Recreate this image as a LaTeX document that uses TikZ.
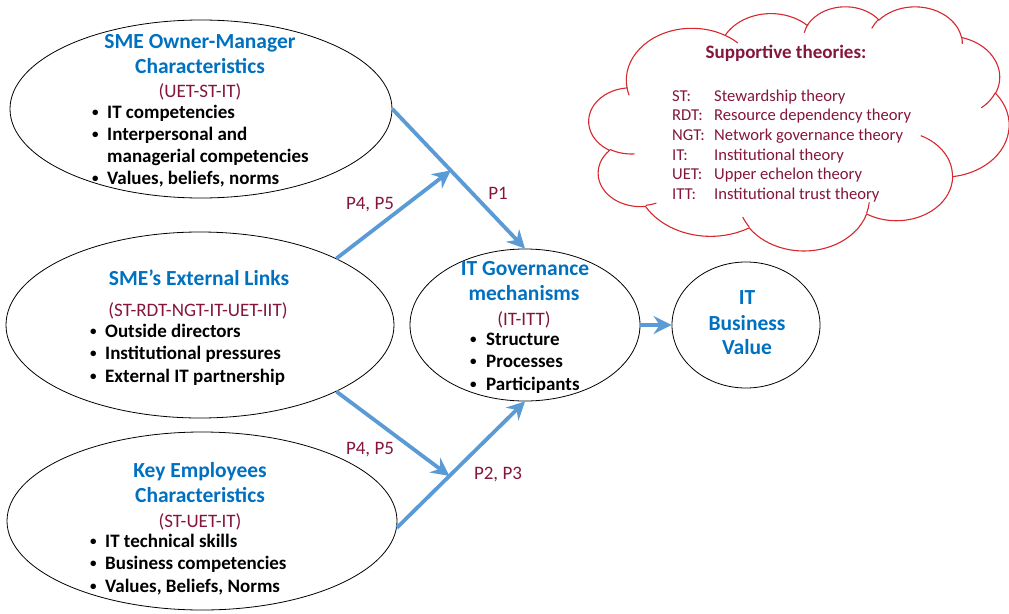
\documentclass[tikz,border=0pt]{standalone}
\usepackage{fontspec}
\setmainfont{Carlito}
\usetikzlibrary{shapes.geometric,arrows.meta,calc}
\definecolor{tblue}{RGB}{0,112,192}
\definecolor{maroon}{RGB}{132,22,62}
\definecolor{arrblue}{RGB}{91,155,213}
\definecolor{cloudred}{RGB}{214,40,46}
\newcommand\smbul{\raisebox{1.2pt}{\fontsize{13}{13}\selectfont•}}
\tikzset{
  oval/.style={ellipse, draw=black, line width=0.8pt, inner sep=0pt},
  ttl/.style={font=\fontsize{21.5}{24}\selectfont\bfseries, text=tblue, inner sep=0pt, anchor=base},
  thy/.style={font=\fontsize{19}{22}\selectfont, text=maroon, inner sep=0pt, anchor=base},
  itm/.style={font=\fontsize{19}{22}\selectfont\bfseries, text=black, inner sep=0pt, anchor=base west},
  lbl/.style={font=\fontsize{19}{22}\selectfont, text=maroon, inner sep=0pt},
  arr/.style={draw=arrblue, line width=3.8pt, -{Stealth[length=18pt, width=18pt, inset=6pt]}},
  cltxt/.style={font=\fontsize{16.6}{20}\selectfont, text=maroon, inner sep=0pt, anchor=base west},
  cltitle/.style={font=\fontsize{19}{22}\selectfont\bfseries, text=maroon, inner sep=0pt, anchor=base},
  cloudline/.style={draw=cloudred, line width=1.1pt},
  ca/.style n args={4}{x radius=#1, y radius=#2,
    start angle={atan2((#1)*sin(#3),(#2)*cos(#3))},
    delta angle={mod(atan2((#1)*sin((#3)+(#4)),(#2)*cos((#3)+(#4)))-atan2((#1)*sin(#3),(#2)*cos(#3))+720,360)}}
}
\begin{document}
\begin{tikzpicture}[x=1pt,y=-1pt]
\useasboundingbox (0,0) rectangle (1009,613);

% cloud
\begin{scope}[shift={(589,6)}, x={(0.9722pt,0pt)}, y={(0pt,-0.5650pt)}]
\draw[cloudline, fill=white] (39.00,143.70)
 arc[ca={67.53}{91.90}{-190.4875}{123.7805}]
 arc[ca={53.33}{72.67}{-144.1024}{89.9452}]
 arc[ca={43.65}{59.45}{-145.8079}{99.7230}]
 arc[ca={48.57}{65.95}{-130.9861}{117.2417}]
 arc[ca={53.33}{72.73}{-78.7089}{109.0269}]
 arc[ca={67.75}{92.20}{-46.2673}{130.2690}]
 arc[ca={57.85}{78.67}{0.6250}{114.0333}]
 arc[ca={67.52}{92.15}{22.4516}{115.1726}]
 arc[ca={77.20}{105.43}{66.2426}{75.7110}]
 arc[ca={43.60}{59.18}{-274.9421}{146.7356}]
 arc[ca={43.45}{59.45}{-246.8285}{152.5189}]
 -- cycle;
\draw[cloudline]
 (46.93,261.77) arc[ca={43.45}{59.45}{86.7420}{26.4295}]
 (69.28,348.99) arc[ca={43.60}{59.18}{73.6105}{11.4475}]
 (164.78,390.90) arc[ca={67.52}{92.15}{137.6242}{14.0811}]
 (288.27,347.51) arc[ca={67.52}{92.15}{6.4533}{15.9984}]
 (341.29,229.54) arc[ca={57.85}{78.67}{-70.2924}{70.9174}]
 (417.98,153.54) arc[ca={53.33}{72.73}{30.3180}{27.7515}]
 (383.24,54.26) arc[ca={48.57}{65.95}{-13.7443}{14.8589}]
 (290.78,39.52) arc[ca={48.57}{65.95}{-149.1815}{18.1954}]
 (221.41,47.20) arc[ca={43.65}{59.45}{-163.4943}{17.6864}]
 (140.00,51.92) arc[ca={67.53}{91.90}{-66.7070}{12.3194}]
 (41.27,157.89) arc[ca={67.53}{91.90}{157.6544}{11.8582}];
\end{scope}

\node[cltitle] (st) at (786,58) {Supportive theories:};
\node[cltxt] (a1) at (672,101) {ST:};
\node[cltxt] (d1) at (714,101) {Stewardship theory};
\node[cltxt] (a2) at (672,120.5) {RDT:};
\node[cltxt] (d2) at (714,120.5) {Resource dependency theory};
\node[cltxt] (a3) at (672,140) {NGT:};
\node[cltxt] (d3) at (714,140) {Network governance theory};
\node[cltxt] (a4) at (672,160) {IT:};
\node[cltxt] (d4) at (714,160) {Institutional theory};
\node[cltxt] (a5) at (672,179.5) {UET:};
\node[cltxt] (d5) at (714,179.5) {Upper echelon theory};
\node[cltxt] (a6) at (672,199) {ITT:};
\node[cltxt] (d6) at (714,199) {Institutional trust theory};

% ellipses
\node[oval, minimum width=382pt, minimum height=178pt] (own) at (201,109) {};
\node[oval, minimum width=388pt, minimum height=186pt] (ext) at (200,325) {};
\node[oval, minimum width=390pt, minimum height=178pt] (key) at (202,521) {};
\node[oval, minimum width=230pt, minimum height=152pt] (gov) at (525,325) {};
\node[oval, minimum width=148pt, minimum height=126pt] (bv) at (746,325) {};

% owner text
\node[ttl] (own1) at (200,48) {SME Owner-Manager};
\node[ttl] (own2) at (200,73) {Characteristics};
\node[thy] (own3) at (200,97) {(UET-ST-IT)};
\node[itm] (own4) at (92,118) {\makebox[15pt][l]{\smbul}IT competencies};
\node[itm] (own5) at (92,140) {\makebox[15pt][l]{\smbul}Interpersonal and};
\node[itm] (own6) at (107,162) {managerial competencies};
\node[itm] (own7) at (92,184) {\makebox[15pt][l]{\smbul}Values, beliefs, norms};

% external links text
\node[ttl] (ext1) at (199,285) {SME’s External Links};
\node[thy] (ext2) at (198,316) {(ST-RDT-NGT-IT-UET-IIT)};
\node[itm] (ext3) at (90,337) {\makebox[15pt][l]{\smbul}Outside directors};
\node[itm] (ext4) at (90,359) {\makebox[15pt][l]{\smbul}Institutional pressures};
\node[itm] (ext5) at (90,382) {\makebox[15pt][l]{\smbul}External IT partnership};

% key employees text
\node[ttl] (key1) at (200,477) {Key Employees};
\node[ttl] (key2) at (200,502) {Characteristics};
\node[thy] (key3) at (200,527) {(ST-UET-IT)};
\node[itm] (key4) at (90,547) {\makebox[15pt][l]{\smbul}IT technical skills};
\node[itm] (key5) at (90,569) {\makebox[15pt][l]{\smbul}Business competencies};
\node[itm] (key6) at (90,592) {\makebox[15pt][l]{\smbul}Values, Beliefs, Norms};

% governance text
\node[ttl] (gov1) at (525,275) {IT Governance};
\node[ttl] (gov2) at (524,300) {mechanisms};
\node[thy] (gov3) at (524,325) {(IT-ITT)};
\node[itm] (gov4) at (470,345) {\makebox[16pt][l]{\smbul}Structure};
\node[itm] (gov5) at (470,367) {\makebox[16pt][l]{\smbul}Processes};
\node[itm] (gov6) at (470,390) {\makebox[16pt][l]{\smbul}Participants};

% business value text
\node[ttl] (bv1) at (747,304) {IT};
\node[ttl] (bv2) at (747,330) {Business};
\node[ttl] (bv3) at (747,354) {Value};

% arrows
\coordinate (m1) at ($(own.east)!0.44!(gov.north)$);
\coordinate (m2) at ($(key.-2)!0.41!(gov.south)$);
\draw[arr] (own.east) -- (gov.north);
\draw[arr] (key.-2) -- (gov.south);
\draw[arr] (ext.26) -- (m1);
\draw[arr] (ext.-26) -- (m2);
\draw[arr] (gov.east) -- (bv.west);

% labels
\node[lbl] (p1) at (498,193) {P1};
\node[lbl] (p45a) at (370,205) {P4, P5};
\node[lbl] (p45b) at (370,450) {P4, P5};
\node[lbl] (p23) at (498,475) {P2, P3};
\end{tikzpicture}
\end{document}
